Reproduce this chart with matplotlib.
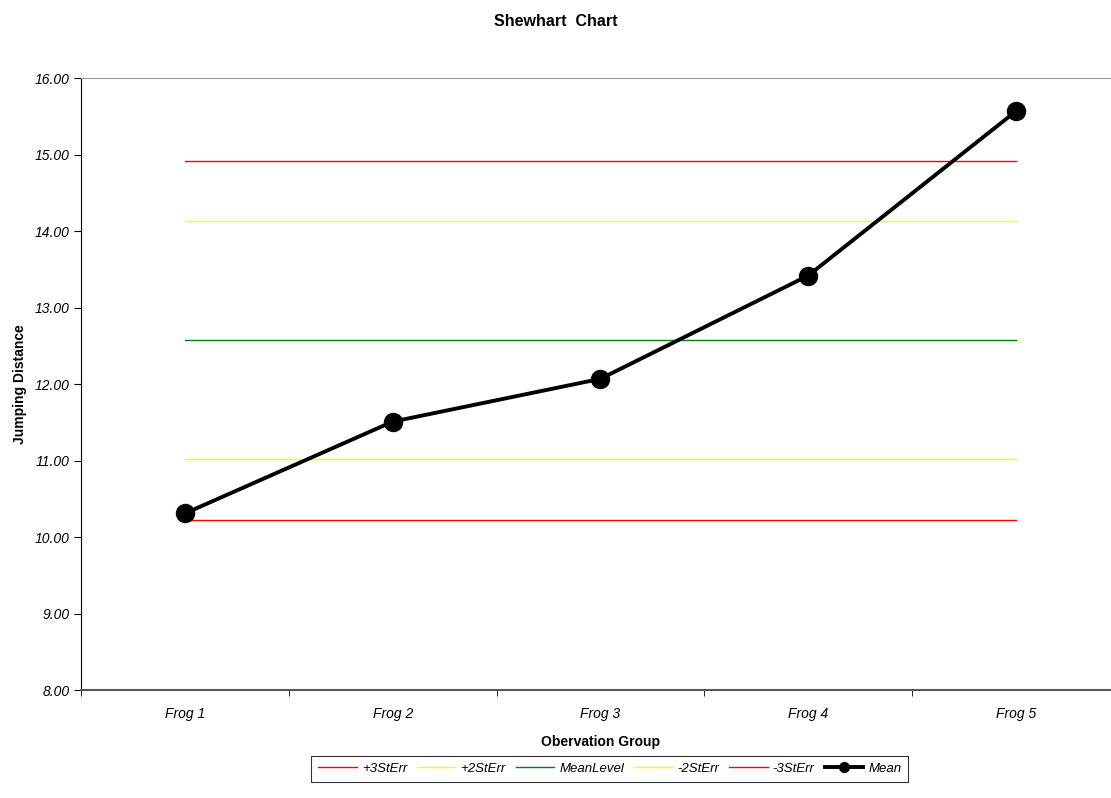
import numpy as np
import matplotlib
matplotlib.use('Agg')
import matplotlib.pyplot as plt

plt.rcParams['font.family'] = ['Liberation Sans', 'DejaVu Sans']

# data
groups = ['Frog 1', 'Frog 2', 'Frog 3', 'Frog 4', 'Frog 5']
means = [10.31, 11.51, 12.07, 13.42, 15.57]
plus3 = [14.92] * 5
plus2 = [14.14] * 5
meanLevel = [12.58] * 5
minus2 = [11.02] * 5
minus3 = [10.23] * 5

fig = plt.figure(figsize=(11.11, 7.98), dpi=100)
ax = fig.add_axes([0.0729, 0.1353, 0.935, 0.7665])

x = np.arange(len(groups))

ax.plot(x, plus3, color='#ff0000', lw=1.0, label='+3StErr')
ax.plot(x, plus2, color='#ffff00', lw=1.0, label='+2StErr')
ax.plot(x, meanLevel, color='#008000', lw=1.0, label='MeanLevel')
ax.plot(x, minus2, color='#ffff00', lw=1.0, label='-2StErr')
ax.plot(x, minus3, color='#ff0000', lw=1.0, label='-3StErr')
ax.plot(x, means, color='black', lw=2.8, marker='o', markersize=13, label='Mean')

ax.set_xlim(-0.5, 4.5)
ax.set_ylim(8, 16)
ax.set_yticks(np.arange(8, 16.5, 1))
ax.set_yticklabels(['%.2f' % v for v in np.arange(8, 16.5, 1)], fontsize=10, style='italic')
ax.set_xticks(x)
ax.set_xticklabels(groups, fontsize=10, style='italic')
ax.set_xticks(np.arange(-0.5, 5, 1), minor=True)
ax.tick_params(axis='x', which='major', length=0, pad=12)
ax.tick_params(axis='x', which='minor', length=4, color='black')
ax.tick_params(axis='y', length=5, color='black', pad=3)

ax.spines['left'].set_color('black')
ax.spines['bottom'].set_color('#555555')
ax.spines['bottom'].set_linewidth(1.5)
ax.spines['top'].set_color('#999999')
ax.spines['right'].set_color('#999999')

ax.set_xlabel('Obervation Group', fontsize=10, fontweight='bold', labelpad=10)
ax.set_ylabel('Jumping Distance', fontsize=10, fontweight='bold')
ax.yaxis.set_label_coords(-0.052, 0.5)
fig.text(0.5, 0.973, 'Shewhart  Chart', ha='center', va='center', fontsize=11.5, fontweight='bold')

leg = ax.legend(loc='center', bbox_to_anchor=(0.509, -0.129), ncol=6, frameon=True,
                fancybox=False, edgecolor='black', prop={'style': 'italic', 'size': 9.5},
                handlelength=2.9, handletextpad=0.4, columnspacing=0.75, borderpad=0.55)
leg.get_frame().set_linewidth(0.8)
for h in leg.get_lines():
    if h.get_label() == 'Mean':
        h.set_markersize(7)

fig.savefig('out.png', dpi=100)
